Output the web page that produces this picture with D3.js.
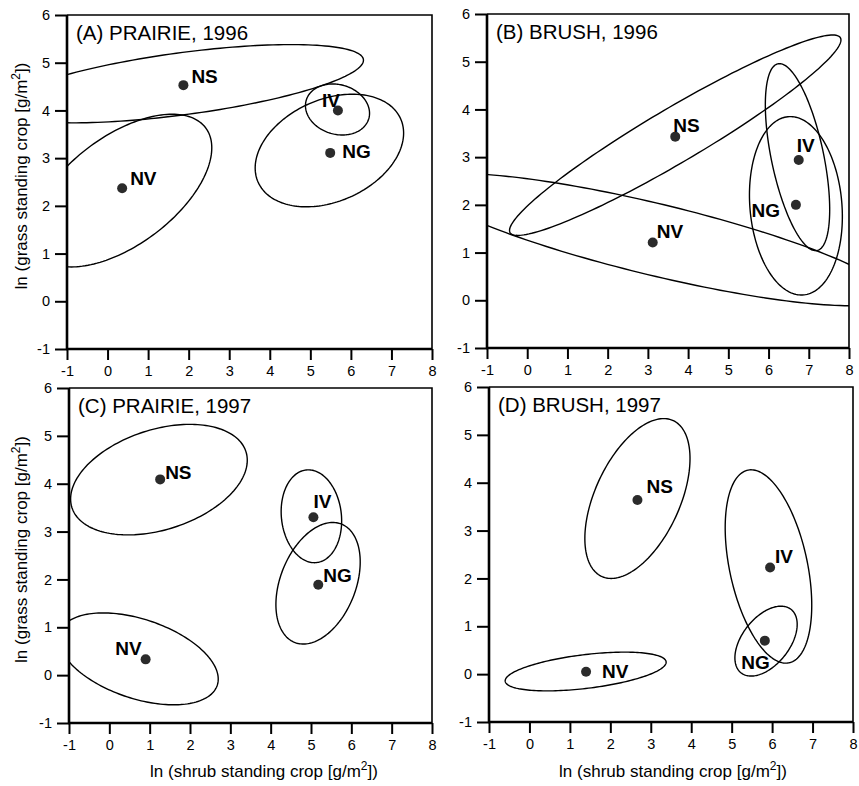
<!DOCTYPE html>
<html lang="en">
<head>
    <meta charset="UTF-8">
    <title>Shrub vs grass standing crop</title>
    <script src="https://cdnjs.cloudflare.com/ajax/libs/d3/7.8.5/d3.min.js"></script>
    <style>
        body {
            margin: 0;
            padding: 0;
            background-color: #fff;
        }
        svg {
            font-family: "Liberation Sans", Arial, Helvetica, sans-serif;
        }
        .ellipse {
            fill: none;
            stroke: #000;
            stroke-width: 1.4;
        }
        .pt-label {
            font-weight: bold;
            font-size: 19px;
        }
    </style>
</head>
<body>
    <div id="chart"></div>

    <script>
        const width = 859;
        const height = 786;

        // --- data ---
        const panelTitles = ["(A) PRAIRIE, 1996", "(B) BRUSH, 1996", "(C) PRAIRIE, 1997", "(D) BRUSH, 1997"];
        const groups = ["NS", "NV", "IV", "NG"];
        const xTicks = [-1, 0, 1, 2, 3, 4, 5, 6, 7, 8];
        const yTicks = [-1, 0, 1, 2, 3, 4, 5, 6];

        // group means, one row per panel, columns in groups order
        const shrubMean = [
            [1.87, 0.36, 5.68, 5.49],
            [3.68, 3.12, 6.75, 6.68],
            [1.26, 0.90, 5.06, 5.18],
            [2.67, 1.40, 5.95, 5.82]
        ];
        const grassMean = [
            [4.53, 2.37, 4.00, 3.11],
            [3.43, 1.21, 2.94, 2.00],
            [4.09, 0.33, 3.30, 1.89],
            [3.64, 0.05, 2.23, 0.70]
        ];

        // ellipse centre, half-ranges and correlation (data units)
        const ellCx = [
            [1.85, 0.35, 5.67, 5.47],
            [3.68, 3.20, 6.72, 6.68],
            [1.23, 0.72, 5.01, 5.175],
            [2.67, 1.39, 5.91, 5.85]
        ];
        const ellCy = [
            [4.56, 2.32, 4.02, 3.16],
            [3.46, 1.27, 3.00, 1.98],
            [4.085, 0.34, 3.32, 1.92],
            [3.67, 0.055, 2.25, 0.69]
        ];
        const ellSx = [
            [4.46, 2.22, 0.79, 1.83],
            [4.12, 5.80, 0.80, 1.155],
            [2.19, 1.98, 0.75, 1.045],
            [1.30, 1.99, 1.07, 0.77]
        ];
        const ellSy = [
            [0.82, 1.60, 0.535, 1.18],
            [2.10, 1.384, 1.96, 1.87],
            [1.155, 0.96, 0.97, 1.27],
            [1.67, 0.405, 2.02, 0.73]
        ];
        const ellR = [
            [0.60, 0.56, -0.15, 0.31],
            [0.95, -0.83, -0.56, -0.12],
            [0.35, -0.44, -0.10, 0.35],
            [0.50, 0.48, -0.40, 0.48]
        ];

        // --- layout ---
        const boxes = [
            { left: 67, top: 15, right: 432, bottom: 349 },
            { left: 487, top: 14, right: 849, bottom: 348 },
            { left: 69, top: 388, right: 432, bottom: 723 },
            { left: 489, top: 387, right: 853, bottom: 722 }
        ];
        // label offsets from the dot [dx, dy, anchor]
        const labelPos = [
            [[8, -2, "start"], [8, -3, "start"], [2, -3, "end"], [12, 5, "start"]],
            [[-2, -5, "start"], [4, -5, "start"], [-2, -8, "start"], [-16, 12, "end"]],
            [[5, 0, "start"], [-4, -4, "end"], [0, -9, "start"], [5, -3, "start"]],
            [[9, -7, "start"], [16, 6, "start"], [5, -4, "start"], [5, 28, "end"]]
        ];

        const svg = d3.select("#chart")
            .append("svg")
            .attr("width", width)
            .attr("height", height);

        function ellipsePoints(cx, cy, sx, sy, r) {
            const pts = [];
            const k = Math.sqrt(1 - r * r);
            for (let i = 0; i <= 180; i++) {
                const t = i / 180 * 2 * Math.PI;
                pts.push([cx + sx * Math.cos(t), cy + sy * (r * Math.cos(t) + k * Math.sin(t))]);
            }
            return pts;
        }

        const fmt = d => d < 0 ? "-" + Math.abs(d) : String(d);

        panelTitles.forEach((title, p) => {
            const b = boxes[p];
            const x = d3.scaleLinear().domain([-1, 8]).range([b.left, b.right]);
            const y = d3.scaleLinear().domain([-1, 6]).range([b.bottom, b.top]);

            const g = svg.append("g");

            g.append("clipPath")
                .attr("id", "clip" + p)
                .append("rect")
                .attr("x", b.left)
                .attr("y", b.top)
                .attr("width", b.right - b.left)
                .attr("height", b.bottom - b.top);

            // frame top/right
            g.append("path")
                .attr("d", `M${b.left},${b.top}H${b.right}V${b.bottom}`)
                .attr("fill", "none")
                .attr("stroke", "#000")
                .attr("stroke-width", 1.6);

            // axes
            const xAxis = g.append("g")
                .attr("transform", `translate(0,${b.bottom})`)
                .call(d3.axisBottom(x).tickValues(xTicks).tickSize(11).tickPadding(6).tickFormat(fmt));
            const yAxis = g.append("g")
                .attr("transform", `translate(${b.left},0)`)
                .call(d3.axisLeft(y).tickValues(yTicks).tickSize(12).tickPadding(5).tickFormat(fmt));
            [xAxis, yAxis].forEach(ax => {
                ax.attr("font-family", null).attr("font-size", null);
                ax.select(".domain").attr("stroke-width", 2.6).attr("d",
                    ax === xAxis ? `M${b.left - 1},0H${b.right}` : `M0,${b.top}V${b.bottom + 1}`);
                ax.selectAll(".tick line").attr("stroke-width", 2);
                ax.selectAll(".tick text")
                    .attr("font-size", "14.5px")
                    .attr("fill", "#000");
            });

            // ellipses
            const line = d3.line().x(d => x(d[0])).y(d => y(d[1])).curve(d3.curveLinearClosed);
            const eg = g.append("g").attr("clip-path", `url(#clip${p})`);
            groups.forEach((name, i) => {
                eg.append("path")
                    .attr("class", "ellipse")
                    .attr("d", line(ellipsePoints(ellCx[p][i], ellCy[p][i], ellSx[p][i], ellSy[p][i], ellR[p][i])));
            });

            // means
            groups.forEach((name, i) => {
                const px = x(shrubMean[p][i]);
                const py = y(grassMean[p][i]);
                g.append("circle")
                    .attr("cx", px)
                    .attr("cy", py)
                    .attr("r", 5)
                    .attr("fill", "#2b2b2b");
                const lp = labelPos[p][i];
                g.append("text")
                    .attr("class", "pt-label")
                    .attr("x", px + lp[0])
                    .attr("y", py + lp[1])
                    .attr("text-anchor", lp[2])
                    .text(name);
            });

            // panel title
            g.append("text")
                .attr("x", b.left + 9)
                .attr("y", b.top + 25)
                .attr("font-size", "20.5px")
                .text(title);

            // y axis title on left panels
            if (p % 2 === 0) {
                const yt = g.append("text")
                    .attr("transform", `translate(27,${(b.top + b.bottom) / 2 - 6}) rotate(-90)`)
                    .attr("text-anchor", "middle")
                    .attr("font-size", "17px");
                yt.append("tspan").text("ln (grass standing crop [g/m");
                yt.append("tspan").attr("baseline-shift", "super").attr("font-size", "12px").text("2");
                yt.append("tspan").text("])");
            }
            // x axis title on bottom panels
            if (p >= 2) {
                const xt = g.append("text")
                    .attr("x", p === 2 ? 264 : 673)
                    .attr("y", 777)
                    .attr("text-anchor", "middle")
                    .attr("font-size", "17px");
                xt.append("tspan").text("ln (shrub standing crop [g/m");
                xt.append("tspan").attr("baseline-shift", "super").attr("font-size", "12px").text("2");
                xt.append("tspan").text("])");
            }
        });
    </script>
</body>
</html>
